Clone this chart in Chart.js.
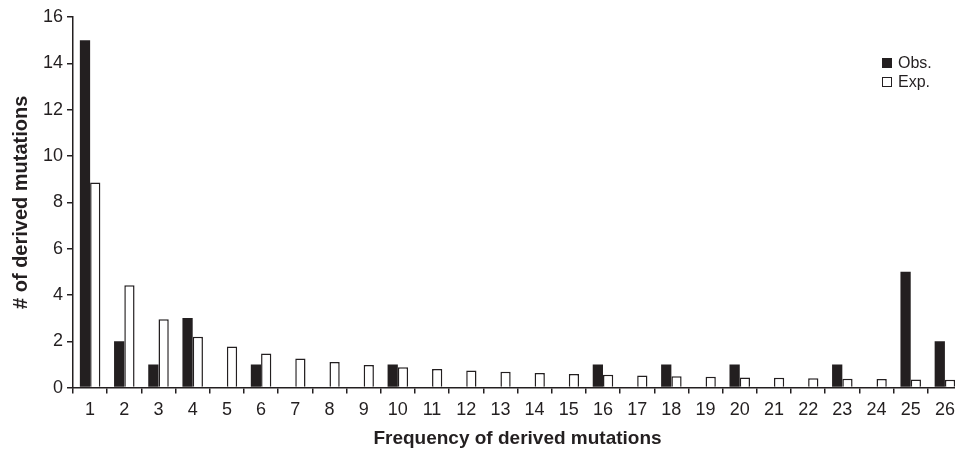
<!DOCTYPE html>
<html>
<head>
<meta charset="utf-8">
<script src="https://cdn.jsdelivr.net/npm/chart.js@4/dist/chart.umd.min.js"></script>
<style>
  html, body { margin: 0; padding: 0; background: #fff; overflow: hidden; }
  #wrap { position: relative; width: 955px; height: 450px; overflow: hidden; }
  #legend { position: absolute; left: 882px; top: 53px; font: 16px Arial, "Liberation Sans", sans-serif; color: #231f20; line-height: 19px; }
  #legend span.box { display: inline-block; width: 10px; height: 10px; margin-right: 6px; border: 1px solid #231f20; box-sizing: border-box; vertical-align: 0px; }
</style>
</head>
<body>
<div id="wrap">
  <canvas id="chart" width="970" height="450"></canvas>
  <div id="legend">
    <div><span class="box" style="background:#231f20"></span>Obs.</div>
    <div><span class="box" style="background:#fff"></span>Exp.</div>
  </div>
</div>
<script>
// ===== DATA =====
const frequencies = ['1', '2', '3', '4', '5', '6', '7', '8', '9', '10', '11', '12', '13',
  '14', '15', '16', '17', '18', '19', '20', '21', '22', '23', '24', '25', '26'];
const observed = [15, 2, 1, 3, 0, 1, 0, 0, 0, 1, 0, 0, 0, 0, 0, 1, 0, 1, 0, 1, 0, 0, 1, 0, 5, 2];
const expected = [8.85, 4.42, 2.95, 2.2, 1.77, 1.47, 1.26, 1.1, 0.98, 0.88, 0.8, 0.74, 0.68,
  0.63, 0.59, 0.55, 0.52, 0.49, 0.47, 0.44, 0.42, 0.4, 0.38, 0.37, 0.35, 0.34];
const yTicks = [0, 2, 4, 6, 8, 10, 12, 14, 16];

const INK = '#231f20';
const FONT = 'Arial, "Liberation Sans", sans-serif';

new Chart(document.getElementById('chart'), {
  type: 'bar',
  data: {
    labels: frequencies,
    datasets: [
      {
        label: 'Obs.',
        data: observed,
        backgroundColor: INK,
        borderColor: INK,
        borderWidth: 0,
        barPercentage: 1.0,
        categoryPercentage: 0.6,
      },
      {
        label: 'Exp.',
        data: expected,
        backgroundColor: '#ffffff',
        borderColor: INK,
        borderWidth: 1.5,
        borderSkipped: 'bottom',
        barPercentage: 1.0,
        categoryPercentage: 0.6,
      },
    ],
  },
  options: {
    responsive: false,
    animation: false,
    layout: { padding: { top: 17, right: 8, left: 9, bottom: 0 } },
    plugins: {
      legend: { display: false },
      tooltip: { enabled: false },
    },
    scales: {
      x: {
        offset: true,
        border: { display: true, color: INK, width: 1.5 },
        grid: { display: true, drawOnChartArea: false, offset: true, color: INK, lineWidth: 1.5, tickLength: 6 },
        ticks: { color: INK, font: { family: FONT, size: 18 }, padding: 6, maxRotation: 0, autoSkip: false },
        title: {
          display: true,
          text: 'Frequency of derived mutations',
          color: INK,
          font: { family: FONT, size: 19, weight: 'bold' },
          padding: { top: 0, bottom: 0 },
        },
      },
      y: {
        min: 0,
        max: 16,
        afterBuildTicks: (axis) => { axis.ticks = yTicks.map((v) => ({ value: v })); },
        border: { display: true, color: INK, width: 1.5 },
        grid: { display: true, drawOnChartArea: false, color: INK, lineWidth: 1.5, tickLength: 6 },
        ticks: { color: INK, font: { family: FONT, size: 18 }, padding: 4 },
        title: {
          display: true,
          text: '# of derived mutations',
          color: INK,
          font: { family: FONT, size: 20, weight: 'bold' },
          padding: { top: 0, bottom: 6 },
        },
      },
    },
  },
});
</script>
</body>
</html>
